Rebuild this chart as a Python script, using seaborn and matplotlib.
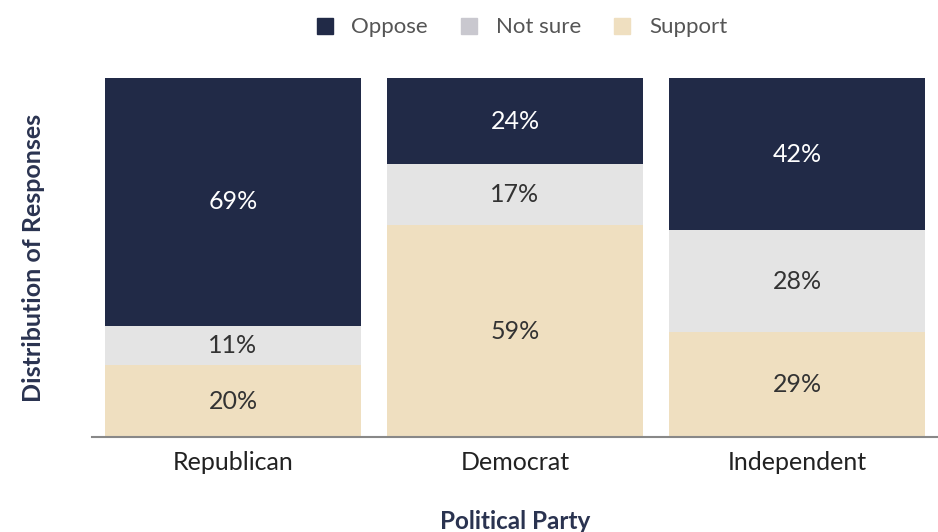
import matplotlib
matplotlib.use("Agg")
import matplotlib.pyplot as plt
from matplotlib.lines import Line2D
import numpy as np
import pandas as pd
import seaborn as sns

parties = ["Republican", "Democrat", "Independent"]
support = [20, 59, 29]
not_sure = [11, 17, 28]
oppose = [69, 24, 42]

NAVY = "#212a47"
GRAY = "#e4e4e4"
GRAY_LEG = "#c9c8cf"
TAN = "#efdfc0"

sns.set_theme(style="white")
plt.rcParams["font.family"] = ["Lato", "DejaVu Sans"]

raw = np.array([support, not_sure, oppose], dtype=float)
shares = raw / raw.sum(axis=0) * 100  # 100% stacked
cum = np.cumsum(shares, axis=0)

df = pd.DataFrame({
    "party": parties * 3,
    "layer": ["support"] * 3 + ["not_sure"] * 3 + ["oppose"] * 3,
    "top": cum.ravel(),
})

fig = plt.figure(figsize=(9.38, 5.32), dpi=100)
ax = fig.add_axes([0.0981, 0.1786, 0.9019, 0.6748])

# draw tallest stacks first, then overlay shorter ones
for layer, color in [("oppose", NAVY), ("not_sure", GRAY), ("support", TAN)]:
    sns.barplot(data=df[df.layer == layer], x="party", y="top", color=color,
                saturation=1, width=0.907, order=parties, ax=ax, linewidth=0)

bottoms = np.vstack([np.zeros(3), cum[:-1]])
text_colors = ["#333333", "#333333", "white"]
for i in range(3):
    for j in range(3):
        ax.text(j, bottoms[i, j] + shares[i, j] / 2, f"{raw[i, j]:.0f}%",
                ha="center", va="center", fontsize=18, color=text_colors[i])

ax.set_xlim(-0.5, 2.5)
ax.set_ylim(0, 100)
ax.set_yticks([])
for s in ["top", "right", "left"]:
    ax.spines[s].set_visible(False)
ax.spines["bottom"].set_color("#888888")
ax.spines["bottom"].set_linewidth(1.5)
ax.tick_params(axis="x", labelsize=18, labelcolor="#222222", pad=10, length=0)
ax.set_xlabel("Political Party", fontsize=17.5, fontweight="bold",
              color="#2a3350", labelpad=26)
ax.set_ylabel("Distribution of Responses", fontsize=18, fontweight="bold",
              color="#2a3350", labelpad=34)

handles = [Line2D([], [], marker="s", linestyle="none", markersize=12,
                  markerfacecolor=c, markeredgecolor=c)
           for c in [NAVY, GRAY_LEG, TAN]]
fig.legend(handles, ["Oppose", "Not sure", "Support"], loc="upper center",
           bbox_to_anchor=(0.556, 1.005), ncol=3, frameon=False, fontsize=16,
           labelcolor="#555555", handlelength=0.8, handletextpad=0.8,
           columnspacing=1.45)

fig.savefig("out.png", dpi=100)
